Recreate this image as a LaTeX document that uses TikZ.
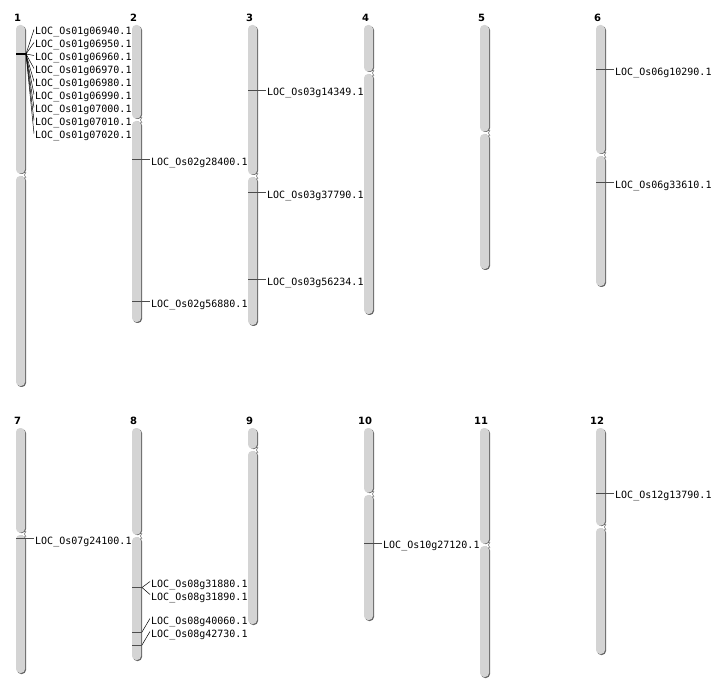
\documentclass[tikz,border=0pt]{standalone}
\usepackage{fontspec}
\setmonofont{DejaVu Sans Mono}
\newfontfamily\numfont{DejaVu Sans}
\usetikzlibrary{calc}

\definecolor{chrgray}{HTML}{D4D4D4}
\definecolor{chrdark}{HTML}{666666}

\tikzset{
  arm/.style={fill=chrgray, rounded corners=4pt},
  armshade/.style={fill=chrdark, rounded corners=4pt},
  tick/.style={draw=black!70, line width=1pt},
  lead/.style={draw=black, line width=0.5pt},
  gene/.style={font=\ttfamily\fontsize{10}{10}\selectfont, anchor=west, inner sep=1pt,
    text height=11pt, text depth=0pt},
  chrnum/.style={font=\numfont\bfseries\fontsize{10}{10}\selectfont, inner sep=0pt}
}

% x, top, centromere, bottom
\newcommand{\chromo}[4]{%
  \path[armshade] (#1+1,#2+1) rectangle (#1+10,#3-1);
  \path[arm] (#1,#2) rectangle (#1+9,#3-1.5);
  \path[armshade] (#1+1,#3+1.5) rectangle (#1+10,#4);
  \path[arm] (#1,#3+1) rectangle (#1+9,#4-1);
  \draw[chrdark, line width=0.6pt] (#1+10,#3-3) -- (#1+8.5,#3) -- (#1+10,#3+3);
}

\begin{document}
\begin{tikzpicture}[x=1pt, y=-1pt]
  \useasboundingbox (0,0) rectangle (712,700);

  % chromosomes, top row
  \chromo{16}{25}{175}{387}
  \chromo{132}{25}{120}{323}
  \chromo{248}{25}{176}{326}
  \chromo{364}{25}{73}{315}
  \chromo{480}{25}{133}{270}
  \chromo{596}{25}{155}{287}
  % chromosomes, bottom row
  \chromo{16}{428}{534}{674}
  \chromo{132}{428}{536}{661}
  \chromo{248}{428}{450}{625}
  \chromo{364}{428}{494}{621}
  \chromo{480}{428}{545}{678}
  \chromo{596}{428}{527}{655}

  % numbers
  \node [chrnum] (c1) at (17.5,17.5) {1};
  \node [chrnum] (c2) at (133.5,17.5) {2};
  \node [chrnum] (c3) at (249.5,17.5) {3};
  \node [chrnum] (c4) at (365.5,17.5) {4};
  \node [chrnum] (c5) at (481.5,17.5) {5};
  \node [chrnum] (c6) at (597.5,17.5) {6};
  \node [chrnum] (c7) at (17.5,420.5) {7};
  \node [chrnum] (c8) at (133.5,420.5) {8};
  \node [chrnum] (c9) at (249.5,420.5) {9};
  \node [chrnum] (c10) at (365,420.5) {10};
  \node [chrnum] (c11) at (481,420.5) {11};
  \node [chrnum] (c12) at (597,420.5) {12};

  % chromosome 1 cluster
  \coordinate (m1) at (26,54);
  \draw [black, line width=1.3pt] (16,54) -- (m1);
  \node [gene] (g1a) at (34,29.5) {LOC\_Os01g06940.1};
  \node [gene] (g1b) at (34,42.5) {LOC\_Os01g06950.1};
  \node [gene] (g1c) at (34,55.5) {LOC\_Os01g06960.1};
  \node [gene] (g1d) at (34,68.5) {LOC\_Os01g06970.1};
  \node [gene] (g1e) at (34,81.5) {LOC\_Os01g06980.1};
  \node [gene] (g1f) at (34,94.5) {LOC\_Os01g06990.1};
  \node [gene] (g1g) at (34,107.5) {LOC\_Os01g07000.1};
  \node [gene] (g1h) at (34,120.5) {LOC\_Os01g07010.1};
  \node [gene] (g1i) at (34,133.5) {LOC\_Os01g07020.1};
  \foreach \g in {g1a,g1b,g1c,g1d,g1e,g1f,g1g,g1h,g1i}
    \draw [lead] (m1) -- (\g.west);

  % single genes
  \node [gene] (g2a) at (150,160) {LOC\_Os02g28400.1};
  \draw [tick] (132,160) -- (g2a.west);
  \node [gene] (g2b) at (150,302) {LOC\_Os02g56880.1};
  \draw [tick] (132,302) -- (g2b.west);
  \node [gene] (g3a) at (266,90.5) {LOC\_Os03g14349.1};
  \draw [tick] (248,90.5) -- (g3a.west);
  \node [gene] (g3b) at (266,193) {LOC\_Os03g37790.1};
  \draw [tick] (248,193) -- (g3b.west);
  \node [gene] (g3c) at (266,280) {LOC\_Os03g56234.1};
  \draw [tick] (248,280) -- (g3c.west);
  \node [gene] (g6a) at (614,70) {LOC\_Os06g10290.1};
  \draw [tick] (596,70) -- (g6a.west);
  \node [gene] (g6b) at (614,183) {LOC\_Os06g33610.1};
  \draw [tick] (596,183) -- (g6b.west);
  \node [gene] (g7a) at (34,538.5) {LOC\_Os07g24100.1};
  \draw [tick] (16,538.5) -- (g7a.west);
  \node [gene] (g10a) at (382,543) {LOC\_Os10g27120.1};
  \draw [tick] (364,543) -- (g10a.west);
  \node [gene] (g12a) at (614,493) {LOC\_Os12g13790.1};
  \draw [tick] (596,493) -- (g12a.west);

  % chromosome 8 genes
  \coordinate (m8a) at (142,587.5);
  \coordinate (m8b) at (142,632);
  \coordinate (m8c) at (142,645);
  \draw [tick] (132,587.5) -- (m8a);
  \draw [tick] (132,632) -- (m8b);
  \draw [tick] (132,645) -- (m8c);
  \node [gene] (g8a) at (150,581.5) {LOC\_Os08g31880.1};
  \node [gene] (g8b) at (150,594.5) {LOC\_Os08g31890.1};
  \node [gene] (g8c) at (150,618.5) {LOC\_Os08g40060.1};
  \node [gene] (g8d) at (150,631.5) {LOC\_Os08g42730.1};
  \draw [lead] (m8a) -- (g8a.west);
  \draw [lead] (m8a) -- (g8b.west);
  \draw [lead] (m8b) -- (g8c.west);
  \draw [lead] (m8c) -- (g8d.west);
\end{tikzpicture}
\end{document}
